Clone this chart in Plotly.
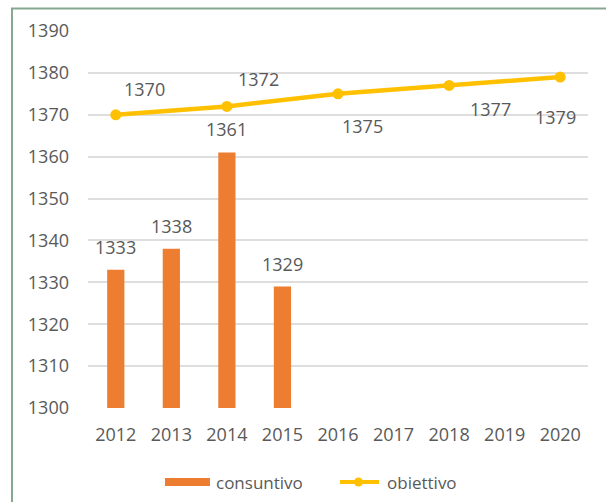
import plotly.graph_objects as go

# Years shown on the horizontal axis
years = [2012, 2013, 2014, 2015, 2016, 2017, 2018, 2019, 2020]

# Actual values (consuntivo)
actual_years = [2012, 2013, 2014, 2015]
actual_values = [1333, 1338, 1361, 1329]

# Target values (obiettivo)
target_years = [2012, 2014, 2016, 2018, 2020]
target_values = [1370, 1372, 1375, 1377, 1379]

# Label offsets (pixels) for the target labels
target_label_dx = [29, 32, 24, 41, -5]
target_label_dy = [26, 27, -32, -24, -40]

y_ticks = list(range(1300, 1391, 10))

ORANGE = "#ED7D31"
GOLD = "#FFC000"
TEXT = "#595959"
GRID = "#DEDEDE"
BORDER = "#86A892"
FONT = "Open Sans"
FS = 18

W, H = 606, 502
ML, MR, MT, MB = 88, 18, 31, 94
PW, PH = W - ML - MR, H - MT - MB


def px(x):
    return (x - ML) / PW


def py(y):
    return (H - MB - y) / PH


fig = go.Figure()

fig.add_trace(go.Bar(
    x=actual_years, y=actual_values, name="consuntivo",
    width=0.31,
    marker=dict(color=ORANGE, line=dict(width=0)),
    showlegend=False,
))

fig.add_trace(go.Scatter(
    x=target_years, y=target_values, name="obiettivo",
    mode="lines+markers",
    line=dict(color=GOLD, width=4.5),
    marker=dict(color=GOLD, size=11),
    showlegend=False,
))

annotations = []
for x, v in zip(actual_years, actual_values):
    annotations.append(dict(
        x=x, y=v, xref="x", yref="y", text=str(v), showarrow=False,
        yshift=23, font=dict(family=FONT, size=FS, color=TEXT),
    ))
for x, v, dx, dy in zip(target_years, target_values, target_label_dx, target_label_dy):
    annotations.append(dict(
        x=x, y=v, xref="x", yref="y", text=str(v), showarrow=False,
        xshift=dx, yshift=dy, font=dict(family=FONT, size=FS, color=TEXT),
    ))

# Legend drawn below the axis
annotations.append(dict(
    x=px(214), y=py(482), xref="paper", yref="paper", text="consuntivo",
    showarrow=False, xanchor="left", yanchor="middle",
    font=dict(family=FONT, size=17, color=TEXT),
))
annotations.append(dict(
    x=px(385), y=py(482), xref="paper", yref="paper", text="obiettivo",
    showarrow=False, xanchor="left", yanchor="middle",
    font=dict(family=FONT, size=17, color=TEXT),
))

shapes = [
    # chart frame (left and top edges)
    dict(type="line", xref="paper", yref="paper",
         x0=px(12), x1=px(12), y0=py(8.5), y1=py(H + 2),
         line=dict(color=BORDER, width=2)),
    dict(type="line", xref="paper", yref="paper",
         x0=px(11), x1=px(W + 2), y0=py(8.5), y1=py(8.5),
         line=dict(color=BORDER, width=2)),
    # legend keys
    dict(type="rect", xref="paper", yref="paper",
         x0=px(165), x1=px(210), y0=py(486), y1=py(478),
         fillcolor=ORANGE, line=dict(width=0)),
    dict(type="line", xref="paper", yref="paper",
         x0=px(340), x1=px(379), y0=py(482), y1=py(482),
         line=dict(color=GOLD, width=4)),
    dict(type="circle", xref="paper", yref="paper",
         x0=px(354), x1=px(363), y0=py(486.5), y1=py(477.5),
         fillcolor=GOLD, line=dict(width=0)),
]

fig.update_layout(
    width=W, height=H,
    margin=dict(l=ML, r=MR, t=MT, b=MB),
    paper_bgcolor="white", plot_bgcolor="white",
    font=dict(family=FONT, size=FS, color=TEXT),
    annotations=annotations,
    shapes=shapes,
    xaxis=dict(
        range=[2011.5, 2020.5],
        tickvals=years, ticktext=[str(y) for y in years],
        showgrid=False, showline=False, zeroline=False,
        ticks="", ticklabelstandoff=14,
        tickfont=dict(family=FONT, size=FS, color=TEXT),
    ),
    yaxis=dict(
        range=[1300, 1390], tickvals=y_ticks,
        showgrid=True, gridcolor=GRID, gridwidth=1.5,
        zeroline=False, showline=False, ticks="",
        ticklabelstandoff=18,
        tickfont=dict(family=FONT, size=FS, color=TEXT),
    ),
)

fig.write_html("out.html")
